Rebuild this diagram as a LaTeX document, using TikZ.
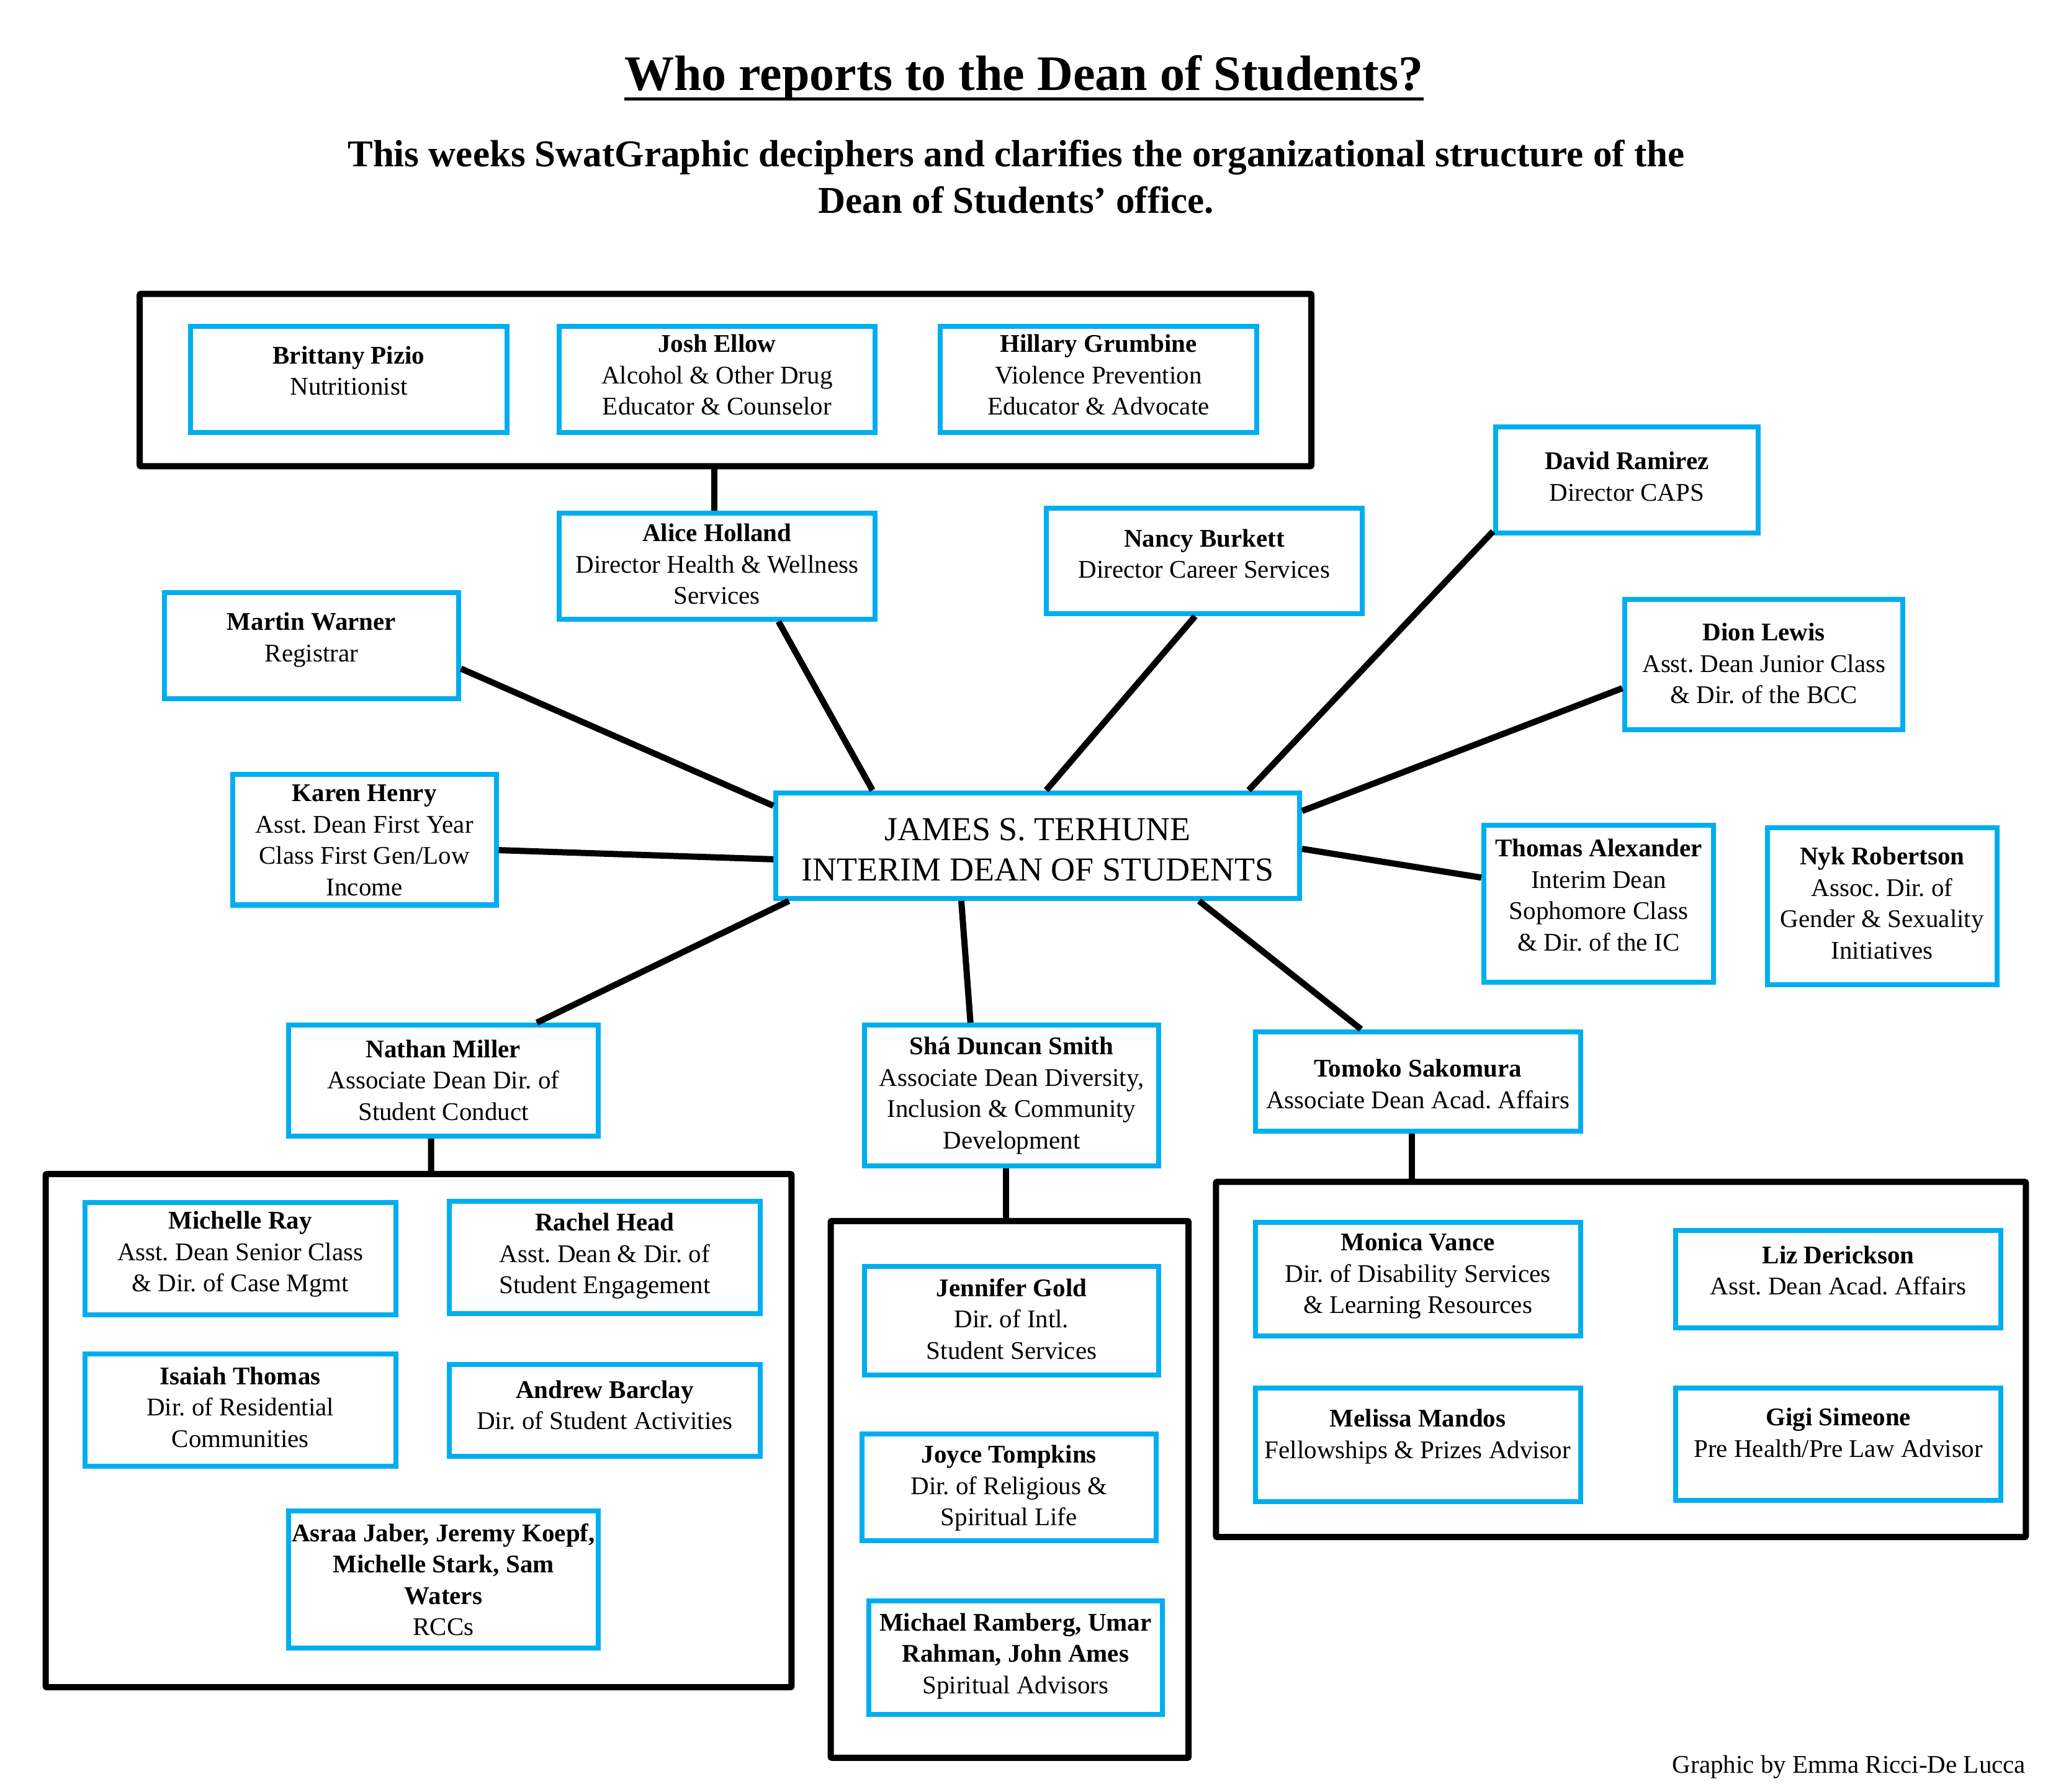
\documentclass[tikz,border=0pt]{standalone}
\usepackage{fontspec}
\setmainfont{Liberation Serif}
\usetikzlibrary{calc}
\definecolor{swatblue}{HTML}{00AEEF}
\newcommand\pxu{2.1046pt}
% name, centre x, centre y, width, height, text centre y, text
\newcommand\orgbox[7]{%
  \node[bluebox, minimum width=#4*\pxu, minimum height=#5*\pxu] (#1) at (#2,#3) {};
  \node[boxtext] (#1-t) at (#2,#6) {#7};}
\begin{document}
\frenchspacing
\begin{tikzpicture}[x=2.1046pt, y=-2.1046pt,
  bluebox/.style={rectangle, draw=swatblue, line width=8pt, fill=white, inner sep=0pt},
  groupbox/.style={rectangle, draw=black, line width=10pt, rounded corners=2pt, inner sep=0pt},
  link/.style={draw=black, line width=10pt},
  boxtext/.style={align=center, inner sep=0pt, font=\fontsize{41}{50.5}\selectfont},
  deantext/.style={align=center, inner sep=0pt, font=\fontsize{54}{65}\selectfont},
  titletext/.style={inner sep=0pt, font=\fontsize{80}{90}\selectfont\bfseries},
  subtext/.style={align=center, inner sep=0pt, font=\fontsize{61}{75}\selectfont\bfseries},
  credittext/.style={inner sep=0pt, font=\fontsize{41}{50}\selectfont}]
\useasboundingbox (0,0) rectangle (1568,1372);

% headings
\node[titletext, anchor=base] (title) at (784,69) {Who reports to the Dean of Students?};
\draw[line width=5pt] ($(title.base west)+(0,6.8)$) -- ($(title.base east)+(0,6.8)$);
\node[subtext, anchor=base] (sub) at (778,163)
  {This weeks SwatGraphic deciphers and clarifies the organizational structure of the\\Dean of Students’ office.};

% group frames
\node[groupbox, minimum width=897*\pxu, minimum height=132*\pxu] (g1) at (555.5,291) {};
\node[groupbox, minimum width=571*\pxu, minimum height=393*\pxu] (g2) at (320.5,1095.5) {};
\node[groupbox, minimum width=274*\pxu, minimum height=411*\pxu] (g3) at (773,1140.5) {};
\node[groupbox, minimum width=620*\pxu, minimum height=272*\pxu] (g4) at (1241,1041) {};

% health & wellness team
\orgbox{brittany}{267}{290.5}{242}{81}{284}{\textbf{Brittany Pizio}\\Nutritionist}
\orgbox{josh}{549}{290.5}{242}{81}{287}{\textbf{Josh Ellow}\\Alcohol \& Other Drug\\Educator \& Counselor}
\orgbox{hillary}{841}{290.5}{242}{81}{287}{\textbf{Hillary Grumbine}\\Violence Prevention\\Educator \& Advocate}

% direct reports
\orgbox{alice}{549}{433.5}{242}{81}{432}{\textbf{Alice Holland}\\Director Health \& Wellness\\Services}
\orgbox{nancy}{922}{429.5}{242}{81}{424}{\textbf{Nancy Burkett}\\Director Career Services}
\orgbox{david}{1245.5}{367.5}{201}{81}{365}{\textbf{David Ramirez}\\Director CAPS}
\orgbox{martin}{238.5}{494.5}{225}{81}{490}{\textbf{Martin Warner}\\Registrar}
\orgbox{dion}{1350.5}{509}{213}{100}{508}{\textbf{Dion Lewis}\\Asst. Dean Junior Class\\\& Dir. of the BCC}
\orgbox{karen}{279}{643}{202}{100}{643.5}{\textbf{Karen Henry}\\Asst. Dean First Year\\Class First Gen/Low\\Income}
\orgbox{thomas}{1224}{692}{176}{120}{685.5}{\textbf{Thomas Alexander}\\Interim Dean\\Sophomore Class\\\& Dir. of the IC}
\orgbox{nyk}{1441}{694}{176}{120}{691.5}{\textbf{Nyk Robertson}\\Assoc. Dir. of\\Gender \& Sexuality\\Initiatives}
\orgbox{nathan}{339.5}{827.5}{237}{85}{827}{\textbf{Nathan Miller}\\Associate Dean Dir. of\\Student Conduct}
\orgbox{sha}{774.5}{839}{225}{108}{839}{\textbf{Shá Duncan Smith}\\Associate Dean Diversity,\\Inclusion \& Community\\Development}
\orgbox{tomoko}{1085.5}{828}{249}{76}{830}{\textbf{Tomoko Sakomura}\\Associate Dean Acad. Affairs}

% the dean
\node[bluebox, minimum width=401*\pxu, minimum height=81*\pxu] (dean) at (794.5,647.5) {};
\node[deantext] (dean-t) at (794.5,650.5) {JAMES S. TERHUNE\\INTERIM DEAN OF STUDENTS};

% student conduct team
\orgbox{michelle}{184}{964}{238}{86}{960.5}{\textbf{Michelle Ray}\\Asst. Dean Senior Class\\\& Dir. of Case Mgmt}
\orgbox{rachel}{463}{963}{238}{86}{962}{\textbf{Rachel Head}\\Asst. Dean \& Dir. of\\Student Engagement}
\orgbox{isaiah}{184}{1080}{238}{86}{1077.5}{\textbf{Isaiah Thomas}\\Dir. of Residential\\Communities}
\orgbox{andrew}{463}{1080}{238}{70}{1076}{\textbf{Andrew Barclay}\\Dir. of Student Activities}
\orgbox{rccs}{339.5}{1209.5}{237}{105}{1209.5}{\textbf{Asraa Jaber, Jeremy Koepf,}\\\textbf{Michelle Stark, Sam}\\\textbf{Waters}\\RCCs}

% diversity, inclusion & community team
\orgbox{jennifer}{774.5}{1011.5}{225}{83}{1010}{\textbf{Jennifer Gold}\\Dir. of Intl.\\Student Services}
\orgbox{joyce}{772.5}{1139}{225}{82}{1139.5}{\textbf{Joyce Tompkins}\\Dir. of Religious \&\\Spiritual Life}
\orgbox{michael}{777.5}{1269.5}{225}{87}{1268}{\textbf{Michael Ramberg, Umar}\\\textbf{Rahman, John Ames}\\Spiritual Advisors}

% academic affairs team
\orgbox{monica}{1085.5}{979.5}{249}{87}{977}{\textbf{Monica Vance}\\Dir. of Disability Services\\\& Learning Resources}
\orgbox{liz}{1407.5}{979.5}{249}{75}{973}{\textbf{Liz Derickson}\\Asst. Dean Acad. Affairs}
\orgbox{melissa}{1085.5}{1106.5}{249}{87}{1100}{\textbf{Melissa Mandos}\\Fellowships \& Prizes Advisor}
\orgbox{gigi}{1407.5}{1106}{249}{86}{1097}{\textbf{Gigi Simeone}\\Pre Health/Pre Law Advisor}

% spokes from the dean
\draw[link] ($(martin.east)+(0,17.5)$) -- ($(dean.west)+(0,-30.5)$);
\draw[link] ($(alice.south)+(47,0)$) -- ($(dean.north)+(-126.5,0)$);
\draw[link] ($(nancy.south)+(-7,0)$) -- ($(dean.north)+(6.5,0)$);
\draw[link] ($(david.south west)+(0,-3)$) -- ($(dean.north)+(161.5,0)$);
\draw[link] ($(dion.west)+(0,18)$) -- ($(dean.east)+(0,-26.5)$);
\draw[link] ($(karen.east)+(0,8)$) -- ($(dean.west)+(0,10.5)$);
\draw[link] ($(dean.east)+(0,2.5)$) -- ($(thomas.west)+(0,-20)$);
\draw[link] ($(dean.south)+(-190.5,0)$) -- ($(nathan.north)+(71.5,0)$);
\draw[link] ($(dean.south)+(-58.5,0)$) -- ($(sha.north)+(-31.5,0)$);
\draw[link] ($(dean.south)+(123.5,0)$) -- ($(tomoko.north)+(-43.5,0)$);

% links to the team frames
\draw[link] ($(alice.north)+(-2,0)$) -- ($(g1.south)+(-8.5,0)$);
\draw[link] ($(nathan.south)+(-9.5,0)$) -- ($(g2.north)+(9.5,0)$);
\draw[link] ($(sha.south)+(-4.5,0)$) -- ($(g3.north)+(-3,0)$);
\draw[link] ($(tomoko.south)+(-4.5,0)$) -- ($(g4.north)+(-160,0)$);

% credit line
\node[credittext, anchor=base east] (credit) at (1551,1357.5) {Graphic by Emma Ricci-De Lucca};
\end{tikzpicture}
\end{document}
